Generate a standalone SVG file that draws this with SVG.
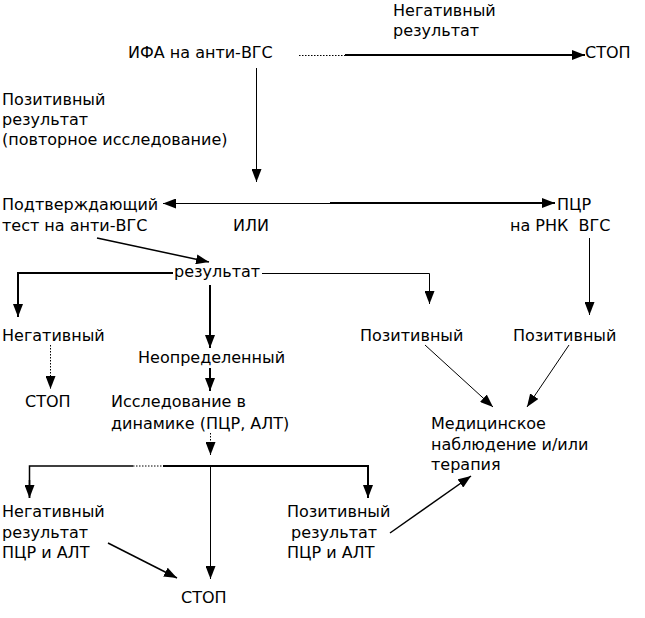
<svg xmlns="http://www.w3.org/2000/svg" width="645" height="618" viewBox="0 0 645 618">
<defs>
<style>
text{font-family:'DejaVu Sans','Liberation Sans',sans-serif;font-size:16px;fill:#000;white-space:pre}
.c{fill:none;stroke:#000}
.k{stroke-width:2}
.t{stroke-width:1}
.m{stroke-width:1.5}
.d{stroke-dasharray:1.5,1.5}
</style>
<marker id="a" viewBox="0 0 13 10" refX="13" refY="5" markerWidth="13" markerHeight="10" orient="auto-start-reverse" markerUnits="userSpaceOnUse"><path d="M0,0L13,5L0,10z" fill="#000"/></marker>
</defs>
<rect width="645" height="618" fill="#fff"/>
<g id="n1"><text x="128" y="58">ИФА на анти-ВГС</text></g>
<g id="n2"><text x="393" y="16">Негативный</text><text x="393" y="36">результат</text></g>
<g id="n3"><text x="585" y="58">СТОП</text></g>
<g id="n4"><text x="2" y="105">Позитивный</text><text x="2" y="125">результат</text><text x="2" y="145">(повторное исследование)</text></g>
<g id="n5"><text x="2" y="210">Подтверждающий</text><text x="2" y="231">тест на анти-ВГС</text></g>
<g id="n6"><text x="233" y="231">ИЛИ</text></g>
<g id="n7"><text x="557" y="210">ПЦР</text><text x="510" y="231">на РНК  ВГС</text></g>
<g id="n8"><text x="174" y="277">результат</text></g>
<g id="n9"><text x="2" y="341">Негативный</text></g>
<g id="n10"><text x="138" y="363">Неопределенный</text></g>
<g id="n11"><text x="360" y="341">Позитивный</text></g>
<g id="n12"><text x="513" y="341">Позитивный</text></g>
<g id="n13"><text x="25" y="407">СТОП</text></g>
<g id="n14"><text x="111" y="407">Исследование в</text><text x="111" y="429">динамике (ПЦР, АЛТ)</text></g>
<g id="n15"><text x="431" y="429">Медицинское</text><text x="431" y="450">наблюдение и/или</text><text x="431" y="470">терапия</text></g>
<g id="n16"><text x="2" y="517">Негативный</text><text x="2" y="538">результат</text><text x="2" y="558">ПЦР и АЛТ</text></g>
<g id="n17"><text x="287" y="517">Позитивный</text><text x="291" y="538">результат</text><text x="287" y="558">ПЦР и АЛТ</text></g>
<g id="n18"><text x="181" y="603">СТОП</text></g>
<g id="edges">
<path class="c t d" d="M299,55.5H345"/>
<path class="c k" d="M345,55H585" marker-end="url(#a)"/>
<path class="c t" d="M256.5,68V182" marker-end="url(#a)"/>
<path class="c t" d="M163,203.5H330"/>
<path class="c t" d="M163,203.5H168" marker-start="url(#a)"/>
<path class="c k" d="M330,203H555" marker-end="url(#a)"/>
<path class="c m" d="M97,238L209,262" marker-end="url(#a)"/>
<path class="c k" d="M173,273H18V317" marker-end="url(#a)"/>
<path class="c t" d="M262,273.5H429.5V304" marker-end="url(#a)"/>
<path class="c k" d="M210,285V348" marker-end="url(#a)"/>
<path class="c t" d="M589.5,238V315" marker-end="url(#a)"/>
<path class="c t d" d="M50.5,345V389" marker-end="url(#a)"/>
<path class="c k" d="M210,368V391" marker-end="url(#a)"/>
<path class="c t" d="M425,345L493,407" marker-end="url(#a)"/>
<path class="c t" d="M569,345L527,407" marker-end="url(#a)"/>
<path class="c t d" d="M210.5,433V455" marker-end="url(#a)"/>
<path class="c m" d="M29.5,498V466H133"/>
<path class="c t d" d="M133,466H163"/>
<path class="c k" d="M163,466H368V498" marker-end="url(#a)"/>
<path class="c m" d="M29.5,480V498" marker-end="url(#a)"/>
<path class="c t" d="M210.5,466V579" marker-end="url(#a)"/>
<path class="c m" d="M108,543L177,578" marker-end="url(#a)"/>
<path class="c m" d="M390,533L471,476" marker-end="url(#a)"/>
</g>
</svg>
